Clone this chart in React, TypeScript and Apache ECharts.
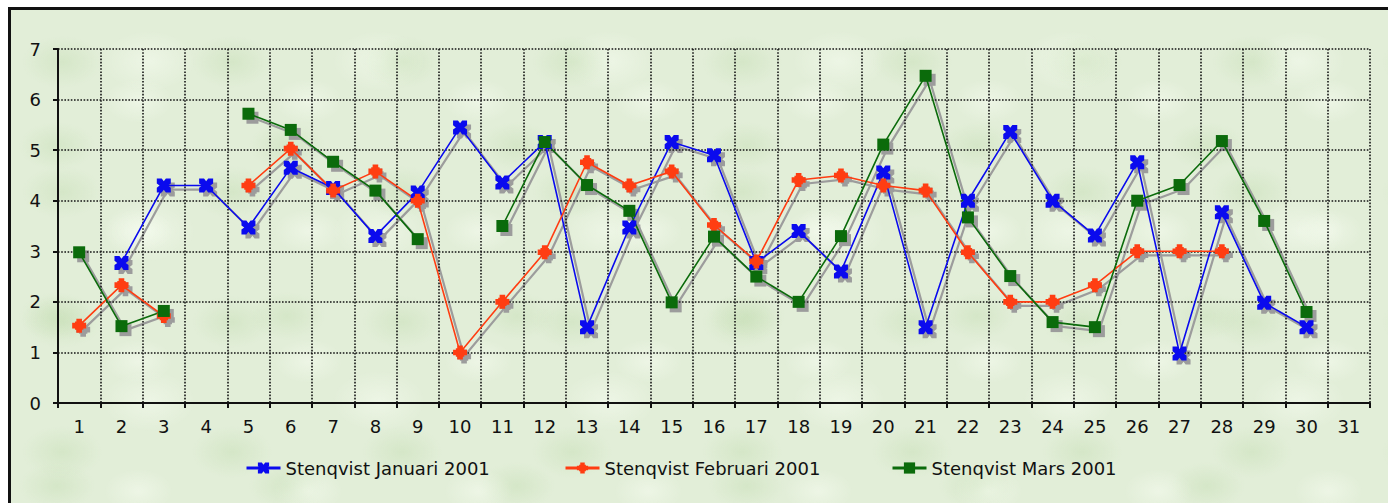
import React, { useEffect, useRef } from "react";
import * as echarts from "echarts";

const days = ["1","2","3","4","5","6","7","8","9","10","11","12","13","14","15","16","17","18","19","20","21","22","23","24","25","26","27","28","29","30","31"];

const januari = [null, 2.77, 4.3, 4.3, 3.47, 4.65, 4.25, 3.3, 4.16, 5.45, 4.36, 5.16, 1.5, 3.47, 5.16, 4.9, 2.77, 3.4, 2.6, 4.56, 1.5, 4.0, 5.36, 4.0, 3.31, 4.76, 0.98, 3.77, 1.98, 1.5, null];
const februari = [1.53, 2.33, 1.72, null, 4.3, 5.03, 4.2, 4.58, 4.0, 1.0, 2.0, 2.98, 4.76, 4.3, 4.58, 3.52, 2.8, 4.41, 4.5, 4.3, 4.2, 2.98, 2.0, 2.0, 2.33, 3.0, 3.0, 3.0, null, null, null];
const mars = [2.98, 1.52, 1.82, null, 5.72, 5.4, 4.77, 4.2, 3.24, null, 3.5, 5.16, 4.31, 3.8, 1.99, 3.29, 2.5, 2.0, 3.3, 5.11, 6.47, 3.67, 2.51, 1.6, 1.5, 4.0, 4.31, 5.18, 3.6, 1.8, null];

const seriesNames = ["Stenqvist Januari 2001", "Stenqvist Februari 2001", "Stenqvist Mars 2001"];
const seriesColors = ["#0a0aee", "#ff3d12", "#0b6b0b"];
const seriesData = [januari, februari, mars];

const xSymbol = "path://M0,0 L3.5,0 L5,2 L6.5,0 L10,0 L10,3.5 L8,5 L10,6.5 L10,10 L6.5,10 L5,8 L3.5,10 L0,10 L0,6.5 L2,5 L0,3.5 Z";
const starSymbol = "path://M3,0 L7,0 L7,2 L8,2 L8,3 L10,3 L10,7 L8,7 L8,8 L7,8 L7,10 L3,10 L3,8 L2,8 L2,7 L0,7 L0,3 L2,3 L2,2 L3,2 Z";
const seriesSymbols = [xSymbol, starSymbol, "rect"];
const seriesSymbolSizes = [14, 14, 12];

const FONT = "DejaVu Sans";

export default function App() {
  const ref = useRef<HTMLDivElement>(null);

  useEffect(() => {
    if (!ref.current) return;
    const chart = echarts.init(ref.current, null, { renderer: "svg" });

    const gridMain = { left: 47, top: 39, width: 1312, height: 354 };
    const gridShadow = { left: 51, top: 43, width: 1312, height: 354 };

    const dotted = { color: "#141414", width: 1.6, type: [1.6, 1.6] };

    const shadowSeries = seriesData.map((d, i) => ({
      name: "shadow" + i,
      type: "line",
      xAxisIndex: 1,
      yAxisIndex: 1,
      data: d,
      symbol: seriesSymbols[i],
      symbolSize: seriesSymbolSizes[i],
      showSymbol: true,
      connectNulls: false,
      lineStyle: { color: "#9c9c9c", width: 2.2 },
      itemStyle: { color: "#9c9c9c" },
      z: 1,
      silent: true,
    }));

    const mainSeries = seriesData.map((d, i) => ({
      name: seriesNames[i],
      type: "line",
      xAxisIndex: 0,
      yAxisIndex: 0,
      data: d,
      symbol: seriesSymbols[i],
      symbolSize: seriesSymbolSizes[i],
      showSymbol: true,
      connectNulls: false,
      lineStyle: { color: seriesColors[i], width: 1.6 },
      itemStyle: { color: seriesColors[i] },
      z: 3,
    }));

    const legendLefts = [234, 553, 880];

    chart.setOption({
      animation: false,
      backgroundColor: "transparent",
      grid: [gridMain, gridShadow],
      xAxis: [
        {
          type: "category",
          gridIndex: 0,
          data: days,
          boundaryGap: true,
          axisLine: { show: true, lineStyle: { color: "#111", width: 2 } },
          axisTick: { show: true, length: 5, interval: 0, lineStyle: { color: "#111", width: 2 } },
          axisLabel: { interval: 0, margin: 14, color: "#111", fontFamily: FONT, fontSize: 18 },
          splitLine: { show: true, interval: 0, lineStyle: dotted },
          z: 2,
        },
        {
          type: "category",
          gridIndex: 1,
          data: days,
          boundaryGap: true,
          show: false,
        },
      ],
      yAxis: [
        {
          type: "value",
          gridIndex: 0,
          min: 0,
          max: 7,
          interval: 1,
          axisLine: { show: true, lineStyle: { color: "#111", width: 2 } },
          axisTick: { show: true, length: 5, lineStyle: { color: "#111", width: 2 } },
          axisLabel: { margin: 17, color: "#111", fontFamily: FONT, fontSize: 18 },
          splitLine: { show: true, lineStyle: dotted },
          z: 2,
        },
        {
          type: "value",
          gridIndex: 1,
          min: 0,
          max: 7,
          interval: 1,
          show: false,
          splitLine: { show: false },
        },
      ],
      legend: seriesNames.map((n, i) => ({
        data: [n],
        left: legendLefts[i] - 5,
        top: 444,
        itemWidth: 34,
        itemHeight: 14,
        itemGap: 0,
        lineStyle: { width: 3 },
        textStyle: { color: "#111", fontFamily: FONT, fontSize: 18 },
        selectedMode: false,
      })),
      series: [...shadowSeries, ...mainSeries],
    });

    return () => chart.dispose();
  }, []);

  const blotchDark = "rgba(185,215,165,0.32)";
  const blotchLight = "rgba(250,255,245,0.45)";
  const clear = "rgba(0,0,0,0)";

  return (
    <div
      style={{
        position: "fixed",
        left: 8,
        top: 7,
        width: 1380,
        height: 496,
        boxSizing: "border-box",
        borderTop: "3px solid #111",
        borderLeft: "3px solid #111",
        backgroundColor: "#e2eed8",
        backgroundImage:
          `radial-gradient(ellipse 40px 26px at 30% 40%, ${blotchDark}, ${clear} 100%),` +
          `radial-gradient(ellipse 34px 22px at 75% 70%, ${blotchLight}, ${clear} 100%),` +
          `radial-gradient(ellipse 46px 30px at 60% 30%, ${blotchLight}, ${clear} 100%),` +
          `radial-gradient(ellipse 38px 24px at 20% 80%, ${blotchDark}, ${clear} 100%)`,
        backgroundSize: "170px 130px, 170px 130px, 230px 170px, 230px 170px",
        overflow: "hidden",
      }}
    >
      <div ref={ref} style={{ width: 1377, height: 493 }} />
    </div>
  );
}
